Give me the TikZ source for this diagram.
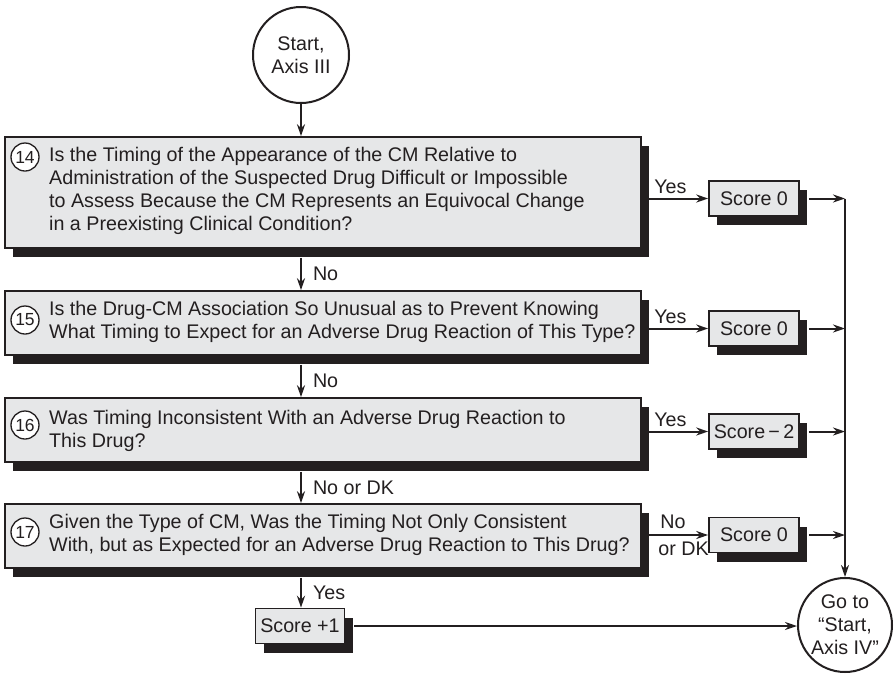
\documentclass[tikz,border=0pt]{standalone}
\usepackage{fontspec}
\setmainfont{Liberation Sans}
\usetikzlibrary{shadows,arrows.meta}
\definecolor{ink}{HTML}{231F20}
\definecolor{panel}{HTML}{E6E7E8}
\begin{document}
\begin{tikzpicture}[x=1pt,y=-1pt,
  every node/.style={text=ink, font=\fontsize{19.7}{23}\selectfont},
  dropbox/.style={draw=ink, line width=1.6pt, fill=panel, inner sep=0pt,
    drop shadow={shadow xshift=8pt, shadow yshift=-9pt, fill=ink, opacity=1}},
  qbox/.style={dropbox, minimum width=636pt, minimum height=64pt},
  scorebox/.style={dropbox, minimum width=90pt, minimum height=35pt},
  qtext/.style={anchor=west, align=left, inner sep=0pt},
  numdisc/.style={circle, draw=ink, line width=1.3pt, fill=white, minimum size=28pt,
    inner sep=0pt, font=\fontsize{17.5}{20}\selectfont},
  terminal/.style={circle, draw=ink, line width=2pt, fill=white, inner sep=0pt,
    align=center, font=\fontsize{19.7}{23}\selectfont},
  arr/.style={draw=ink, line width=2pt, -{Stealth[length=12pt, width=8pt]}},
  lbl/.style={inner sep=1pt}
]
\useasboundingbox (0,0) rectangle (895,673);

% spine of the flow and the collecting bus on the right
\coordinate (spine) at (301,0);
\coordinate (bustop) at (845,198.5);

% start terminal
\node[terminal, minimum size=96pt] (start) at (301,55) {Start,\\Axis III};

% question 14
\node[qbox, minimum height=111pt] (q14) at (323,192.5) {};
\node[numdisc] (n14) at (25,157) {14};
\node[qtext] (t14) at (49,191) {Is the Timing of the Appearance of the CM Relative to\\
  Administration of the Suspected Drug Difficult or Impossible\\
  to Assess Because the CM Represents an Equivocal Change\\
  in a Preexisting Clinical Condition?};

% question 15
\node[qbox] (q15) at (323,323) {};
\node[numdisc] (n15) at (25,320) {15};
\node[qtext] (t15) at (49,321.5) {Is the Drug-CM Association So Unusual as to Prevent Knowing\\
  What Timing to Expect for an Adverse Drug Reaction of This Type?};

% question 16
\node[qbox] (q16) at (323,430) {};
\node[numdisc] (n16) at (25,425) {16};
\node[qtext] (t16) at (49,430.5) {Was Timing Inconsistent With an Adverse Drug Reaction to\\
  This Drug?};

% question 17
\node[qbox] (q17) at (323,536) {};
\node[numdisc] (n17) at (25,532) {17};
\node[qtext] (t17) at (49,535) {Given the Type of CM, Was the Timing Not Only Consistent\\
  With, but as Expected for an Adverse Drug Reaction to This Drug?};

% scores
\node[scorebox] (s14) at (754,198.5) {Score 0};
\node[scorebox] (s15) at (754,328.5) {Score 0};
\node[scorebox] (s16) at (754,431.5) {Score\,−\,2};
\node[scorebox] (s17) at (754,535) {Score 0};
\node[scorebox, minimum width=89pt] (p1) at (300,626) {Score +1};

% end terminal
\node[terminal, minimum size=94pt] (go) at (845,625) {Go to\\“Start,\\Axis IV”};

% vertical flow
\draw[arr] (start.south) -- (start.south |- q14.north);
\draw[arr] ([yshift=-9pt]q14.south -| spine) -- (q15.north -| spine)
  node[lbl, midway, right, xshift=10pt] (l14) {No};
\draw[arr] ([yshift=-9pt]q15.south -| spine) -- (q16.north -| spine)
  node[lbl, midway, right, xshift=10pt] (l15) {No};
\draw[arr] ([yshift=-9pt]q16.south -| spine) -- (q17.north -| spine)
  node[lbl, midway, right, xshift=10pt] (l16) {No or DK};
\draw[arr] ([yshift=-9pt]q17.south -| spine) -- (p1.north -| spine)
  node[lbl, midway, right, xshift=10pt] (l17) {Yes};

% branches to the scores
\draw[arr] (s14 -| q14.east) -- (s14.west)
  node[lbl, pos=0.43, above, yshift=3pt] (y14) {Yes};
\draw[arr] (s15 -| q15.east) -- (s15.west)
  node[lbl, pos=0.43, above, yshift=3pt] (y15) {Yes};
\draw[arr] (s16 -| q16.east) -- (s16.west)
  node[lbl, pos=0.43, above, yshift=3pt] (y16) {Yes};
\draw[arr] (s17 -| q17.east) -- (s17.west)
  node[lbl, pos=0.47, above, yshift=4pt] (y17a) {No}
  node[lbl, pos=0.63, below, yshift=-5pt] (y17b) {or DK};

% scores into the bus
\draw[arr] ([xshift=9pt]s14.east) -- (s14 -| bustop);
\draw[arr] ([xshift=9pt]s15.east) -- (s15 -| bustop);
\draw[arr] ([xshift=9pt]s16.east) -- (s16 -| bustop);
\draw[arr] ([xshift=9pt]s17.east) -- (s17 -| bustop);
\draw[arr] (bustop) -- (go.north);

% score +1 straight to the end
\draw[arr] ([xshift=9pt]p1.east) -- (go.west |- p1.east);
\end{tikzpicture}
\end{document}
